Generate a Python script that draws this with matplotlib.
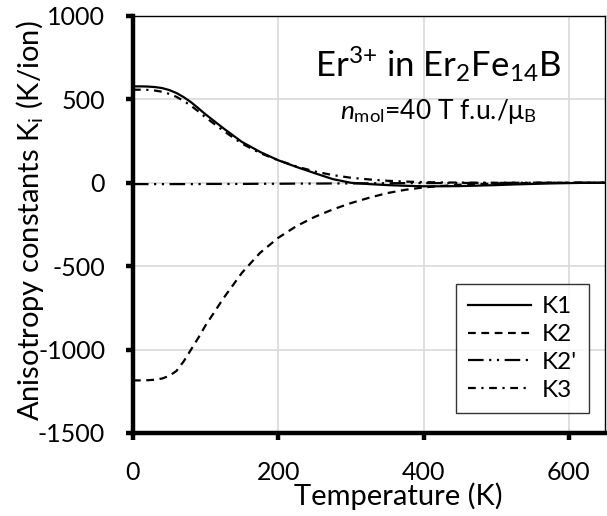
import matplotlib
matplotlib.use("Agg")
import matplotlib.pyplot as plt

# ── Font ───────────────────────────────────────────────────────────────────────
FONT = "Lato"
plt.rcParams.update({
    "font.family": [FONT, "DejaVu Sans"],
    "mathtext.fontset": "custom",
    "mathtext.rm": FONT,
    "mathtext.it": FONT + ":italic",
    "mathtext.bf": FONT + ":bold",
    "axes.unicode_minus": False,
    "figure.facecolor": "white",
    "axes.facecolor": "white",
})

# ── Data: Er3+ anisotropy constants ────────────────────────────────────────────
TEMP = [0, 10, 20, 30, 40, 50, 60, 70, 80, 90, 100, 125, 150, 175, 200, 225,
        250, 275, 300, 325, 350, 375, 400, 425, 450, 475, 500, 525, 550, 575,
        600, 625, 650]
K1 = [578, 578, 577, 574, 568, 556, 538, 513, 483, 447, 410, 325, 245, 185,
      135, 95, 58, 22, 0, -8, -14, -18, -21, -21, -20, -17, -14, -10, -7, -4,
      -2, 0, 0]
K2 = [-1185, -1185, -1184, -1181, -1174, -1158, -1128, -1070, -1000, -930,
      -855, -690, -540, -420, -330, -260, -205, -160, -122, -90, -62, -42,
      -28, -19, -12, -8, -5, -3, -1, 0, 0, 0, 0]
K2P = [-8, -8, -8, -8, -8, -8, -8, -8, -8, -8, -7, -7, -7, -6, -6, -5, -5,
       -4, -4, -3, -3, -2, -2, -2, -1, -1, -1, 0, 0, 0, 0, 0, 0]
K3 = [558, 558, 557, 553, 546, 533, 515, 490, 462, 428, 392, 310, 235, 178,
      135, 98, 68, 46, 30, 20, 12, 7, 4, 2, 1, 0, 0, 0, 0, 0, 0, 0, 0]

XTICKS = [0, 200, 400, 600]
YTICKS = [-1500, -1000, -500, 0, 500, 1000]

GRID = "#d9d9d9"


def make_figure():
    fig = plt.figure(figsize=(6.07, 5.16), dpi=100)
    ax = fig.add_axes([0.219, 0.161, 0.778, 0.808])

    lw = 1.6
    ax.plot(TEMP, K1, color="black", lw=lw, label="K1", zorder=3)
    ax.plot(TEMP, K2, color="black", lw=lw, dashes=(3.5, 2.5), label="K2", zorder=3)
    ax.plot(TEMP, K2P, color="black", lw=lw, dashes=(7, 2.5, 1, 2.5, 1, 2.5),
            label="K2'", zorder=3)
    ax.plot(TEMP, K3, color="black", lw=lw, dashes=(3.5, 2.5, 1, 2.5),
            label="K3", zorder=3)

    ax.set_xlim(0, 650)
    ax.set_ylim(-1500, 1000)
    ax.set_xticks(XTICKS)
    ax.set_yticks(YTICKS)
    ax.grid(True, color=GRID, lw=1.2, zorder=0)
    ax.set_axisbelow(True)

    for side in ("left", "bottom"):
        ax.spines[side].set_linewidth(3.2)
    for side in ("top", "right"):
        ax.spines[side].set_linewidth(1.0)
    ax.tick_params(axis="both", direction="out", length=5, width=3.2,
                   labelsize=18, pad=15)

    ax.set_xlabel("Temperature (K)", fontsize=21, va="center")
    ax.xaxis.set_label_coords(0.561, -0.151)
    ax.set_ylabel("Anisotropy constants K$_\\mathregular{i}$ (K/ion)",
                  fontsize=21, va="center")
    ax.yaxis.set_label_coords(-0.218, 0.51)

    ax.text(420, 635,
            "Er$^\\mathregular{3{+}}$ in Er$_\\mathregular{2}$Fe$_\\mathregular{14}$B",
            fontsize=25, ha="center", va="baseline")
    ax.text(420, 385, "$\\mathit{n}_\\mathregular{mol}$=40 T f.u./μ$_\\mathregular{B}$",
            fontsize=19, ha="center", va="baseline")

    leg = ax.legend(loc="lower right", bbox_to_anchor=(0.966, 0.048),
                    fontsize=17.5, frameon=True, fancybox=False,
                    edgecolor="black", handlelength=2.6, borderaxespad=0,
                    labelspacing=0.28, handletextpad=0.45, borderpad=0.5)
    leg.get_frame().set_linewidth(1.0)

    fig.savefig("out.png", dpi=100)
    plt.close(fig)


if __name__ == "__main__":
    make_figure()
